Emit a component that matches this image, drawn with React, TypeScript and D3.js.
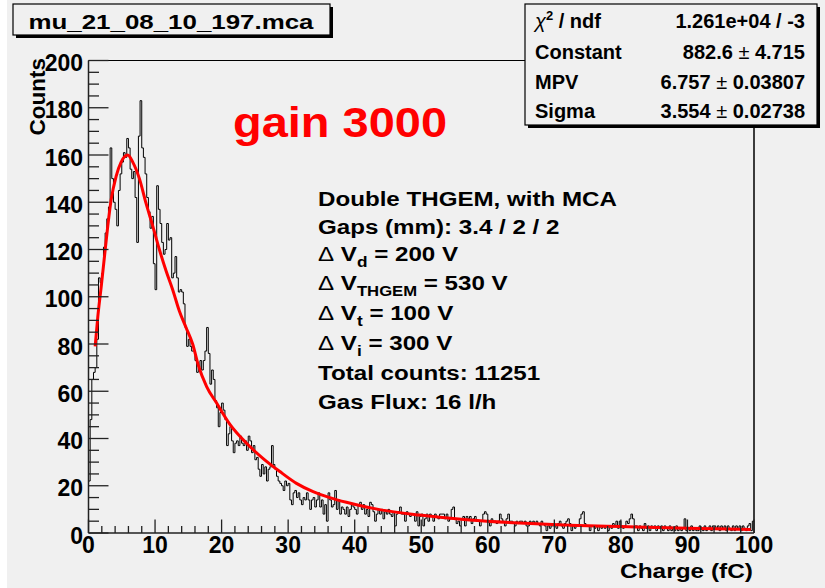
import React from 'react';
import * as d3 from 'd3';

// ---------- data ----------
const BIN_WIDTH = 0.25; // fC per bin, 400 bins over 0..100
const countsA = [
  22, 48, 65, 68, 70, 82, 108, 106, 110, 121, 127, 133, 138, 163, 150, 140, 137, 130, 145, 152,
  157, 161, 159, 167, 163, 154, 150, 153, 142, 123, 168, 183, 163, 159, 152, 142, 136, 129, 134, 114,
  103, 147, 137, 131, 123, 118, 120, 131, 124, 125, 108, 110, 117, 108, 102, 103, 102, 97, 87, 79,
  82, 79, 77, 77, 73, 68, 70, 73, 69, 73, 77, 87, 76, 63, 69, 65, 56, 53, 45, 51,
  55, 52, 48, 37, 42, 45, 39, 34, 38, 39, 37, 41, 38, 37, 39, 35, 41, 39, 34, 37,
];
const countsB = [
  31, 32, 27, 24, 29, 25, 28, 22, 27, 28, 37, 29, 27, 24, 22, 21, 20, 18, 22, 20,
  21, 14, 12, 17, 18, 15, 17, 14, 12, 15, 14, 17, 14, 10, 14, 15, 11, 14, 17, 11,
  14, 8, 12, 5, 17, 14, 11, 12, 18, 10, 14, 8, 11, 10, 8, 11, 7, 10, 12, 11,
  10, 8, 12, 13, 10, 12, 8, 10, 7, 13, 12, 9, 5, 8, 10, 8, 10, 6, 9, 8,
  10, 8, 7, 9, 3, 8, 9, 11, 8, 8, 5, 9, 8, 7, 8, 8, 5, 9, 3, 7,
];
const countsC = [
  8, 3, 6, 8, 5, 8, 7, 5, 8, 7, 6, 8, 8, 8, 6, 8, 5, 6, 10, 11,
  6, 4, 5, 3, 6, 7, 3, 7, 6, 7, 4, 6, 7, 5, 5, 3, 5, 8, 9, 8,
  5, 3, 6, 5, 5, 4, 5, 8, 6, 5, 3, 6, 8, 5, 5, 4, 3, 5, 4, 5,
  5, 4, 5, 3, 3, 5, 4, 5, 4, 5, 4, 3, 5, 4, 3, 1, 3, 2, 3, 3,
  3, 2, 4, 5, 3, 2, 4, 5, 6, 4, 1, 3, 2, 3, 3, 6, 8, 9, 4, 3,
];
const countsD = [
  3, 1, 3, 3, 2, 3, 1, 3, 2, 3, 2, 3, 1, 3, 2, 4, 3, 5, 2, 5,
  3, 2, 3, 5, 4, 6, 8, 6, 3, 3, 1, 3, 2, 1, 4, 2, 3, 1, 3, 2,
  3, 1, 3, 2, 3, 1, 3, 2, 1, 3, 1, 2, 1, 3, 1, 2, 1, 2, 6, 1,
  2, 1, 3, 1, 2, 1, 1, 3, 2, 1, 3, 1, 2, 3, 1, 3, 3, 2, 3, 1,
  3, 2, 3, 1, 3, 2, 1, 3, 1, 3, 2, 3, 1, 3, 2, 1, 3, 4, 1, 5,
];
const counts = [...countsA, ...countsB, ...countsC, ...countsD];

// Landau fit curve
const fitX = [1.0, 1.4, 1.9, 2.4, 2.9, 3.4, 4.15, 4.9, 5.9, 6.65, 7.65, 8.65, 9.65, 10.65, 11.65, 12.65, 13.65, 14.65, 15.65, 16.5, 17.75, 19.25, 21.25, 23.75, 26.25, 28.75, 31.25, 33.75, 36.25, 38.75, 41.25, 43.75, 49.75, 57.25, 64.75, 72.25, 80, 90, 99.5];
const fitY = [79, 91.6, 104, 117, 130, 141, 151, 157, 160, 157, 150, 139.5, 130, 120, 111, 103, 94, 87, 80, 71, 62, 55, 46, 38, 31.5, 26, 21, 17.5, 15, 13, 11.3, 9.9, 7.6, 5.5, 4.2, 3.3, 2.7, 2.0, 1.5];

const xMajorTicks = [0, 10, 20, 30, 40, 50, 60, 70, 80, 90, 100];
const yMajorTicks = [0, 20, 40, 60, 80, 100, 120, 140, 160, 180, 200];

const titleText = 'mu_21_08_10_197.mca';
const statsLabels = ['Constant', 'MPV', 'Sigma'];
const statsValues = [['882.6', '4.715'], ['6.757', '0.03807'], ['3.554', '0.02738']];
const chiValue = '1.261e+04 / -3';
const gainText = 'gain 3000';

const FONT = "'Liberation Sans', Arial, Helvetica, sans-serif";

export default function App() {
  const x = d3.scaleLinear().domain([0, 100]).range([88.5, 754]);
  const y = d3.scaleLinear().domain([0, 200]).range([533, 60.5]);

  const histPts: [number, number][] = counts.map((c, i) => [i * BIN_WIDTH, c]);
  histPts.push([counts.length * BIN_WIDTH, counts[counts.length - 1]]);
  const histPath = d3.line<[number, number]>()
    .x(d => x(d[0]))
    .y(d => y(d[1]))
    .curve(d3.curveStepAfter)(histPts) || '';

  const fitPath = d3.line<number>()
    .x((_, i) => x(fitX[i]))
    .y(d => y(d))
    .curve(d3.curveMonotoneX)(fitY) || '';

  const xMinor = d3.range(0, 100.01, 2);
  const yMinor = d3.range(0, 200.01, 5);

  const axisColor = '#222';

  const infoLines: { y: number; parts: React.ReactNode }[] = [
    { y: 206.5, parts: <tspan>Double THGEM, with MCA</tspan> },
    { y: 234, parts: <tspan>Gaps (mm): 3.4 / 2 / 2</tspan> },
    { y: 261.5, parts: <><tspan fontWeight="normal">Δ</tspan><tspan> V</tspan><tspan fontSize={15} dy={6}>d</tspan><tspan dy={-6}> = 200 V</tspan></> },
    { y: 290, parts: <><tspan fontWeight="normal">Δ</tspan><tspan> V</tspan><tspan fontSize={14.5} dy={6}>THGEM</tspan><tspan dy={-6}> = 530 V</tspan></> },
    { y: 320, parts: <><tspan fontWeight="normal">Δ</tspan><tspan> V</tspan><tspan fontSize={15} dy={6}>t</tspan><tspan dy={-6}> = 100 V</tspan></> },
    { y: 350.5, parts: <><tspan fontWeight="normal">Δ</tspan><tspan> V</tspan><tspan fontSize={15} dy={6}>i</tspan><tspan dy={-6}> = 300 V</tspan></> },
    { y: 380, parts: <tspan>Total counts: 11251</tspan> },
    { y: 409.5, parts: <tspan>Gas Flux: 16 l/h</tspan> },
  ];

  return (
    <div style={{ position: 'absolute', left: 0, top: 0 }}>
      <svg width={825} height={588} style={{ display: 'block' }} fontFamily={FONT}>
        <rect x={0} y={0} width={825} height={588} fill="#f0f0f0" />
        <rect x={0} y={0} width={7} height={588} fill="#ffffff" />

        {/* frame */}
        <line x1={x(0)} x2={x(100)} y1={y(200)} y2={y(200)} stroke="#000" strokeWidth={1.2} />
        <line x1={x(100)} x2={x(100)} y1={y(200)} y2={y(0)} stroke="#000" strokeWidth={1.5} />

        {/* histogram */}
        <path d={histPath} fill="none" stroke="#000" strokeWidth={1} />
        {/* fit */}
        <path d={fitPath} fill="none" stroke="#ff0000" strokeWidth={3} strokeLinejoin="round" />

        {/* axes */}
        <line x1={x(0)} x2={x(0)} y1={y(200)} y2={y(0)} stroke={axisColor} strokeWidth={1.5} />
        <line x1={x(0)} x2={x(100)} y1={y(0)} y2={y(0)} stroke={axisColor} strokeWidth={1.5} />
        {yMinor.map(v => (
          <line key={'ym' + v} x1={x(0)} x2={x(0) + (v % 20 === 0 ? 20 : 10.5)} y1={y(v)} y2={y(v)} stroke={axisColor} strokeWidth={1.3} />
        ))}
        {xMinor.map(v => (
          <line key={'xm' + v} x1={x(v)} x2={x(v)} y1={y(0)} y2={y(0) - (v % 10 === 0 ? 13.5 : 7)} stroke={axisColor} strokeWidth={1.3} />
        ))}
        {yMajorTicks.map(v => (
          <text key={'yl' + v} x={83} y={y(v) + 10.5} textAnchor="end" fontSize={23} fontWeight="bold" fill="#000">{v}</text>
        ))}
        {xMajorTicks.map(v => (
          <text key={'xl' + v} x={x(v)} y={553} textAnchor="middle" fontSize={23} fontWeight="bold" fill="#000">{v}</text>
        ))}
        <text transform="translate(45,58) rotate(-90)" textAnchor="end" fontSize={22.5} fontWeight="bold" fill="#000">Counts</text>
        <text x={753} y={578} textAnchor="end" fontSize={21} fontWeight="bold" fill="#000" textLength={133} lengthAdjust="spacingAndGlyphs">Charge (fC)</text>

        {/* title box */}
        <rect x={16} y={7} width={317} height={31} fill="#000" />
        <rect x={13} y={4} width={317} height={31} fill="#f0f0f0" stroke="#000" strokeWidth={1.2} />
        <text x={171} y={28.5} textAnchor="middle" fontSize={20.5} fontWeight="bold" fill="#000" textLength={285} lengthAdjust="spacingAndGlyphs">{titleText}</text>

        {/* stats box */}
        <rect x={528} y={7} width={292} height={121} fill="#000" />
        <rect x={525} y={4} width={292} height={121} fill="#f0f0f0" stroke="#000" strokeWidth={1.2} />
        <text x={535} y={28} fontSize={20} fontWeight="bold" fill="#000">
          <tspan fontWeight="normal" fontStyle="italic">χ</tspan>
          <tspan fontSize={13} dy={-8}>2</tspan>
          <tspan dy={8}> / ndf</tspan>
        </text>
        <text x={805} y={28} textAnchor="end" fontSize={20} fontWeight="bold" fill="#000">{chiValue}</text>
        {statsLabels.map((l, i) => (
          <text key={l} x={535} y={59 + i * 29.5} fontSize={20} fontWeight="bold" fill="#000">{l}</text>
        ))}
        {statsValues.map((v, i) => (
          <text key={'sv' + i} x={805} y={59 + i * 29.5} textAnchor="end" fontSize={20} fontWeight="bold" fill="#000">
            {v[0]}<tspan fontWeight="normal"> ± </tspan>{v[1]}
          </text>
        ))}

        {/* gain label */}
        <text x={233} y={137} fontSize={42} fontWeight="bold" fill="#ff0000" textLength={214} lengthAdjust="spacingAndGlyphs">{gainText}</text>

        {/* info block */}
        <g transform="translate(318,0) scale(1.15,1)">
          {infoLines.map((ln, i) => (
            <text key={'il' + i} x={0} y={ln.y} fontSize={21} fontWeight="bold" fill="#000">{ln.parts}</text>
          ))}
        </g>
      </svg>
    </div>
  );
}
